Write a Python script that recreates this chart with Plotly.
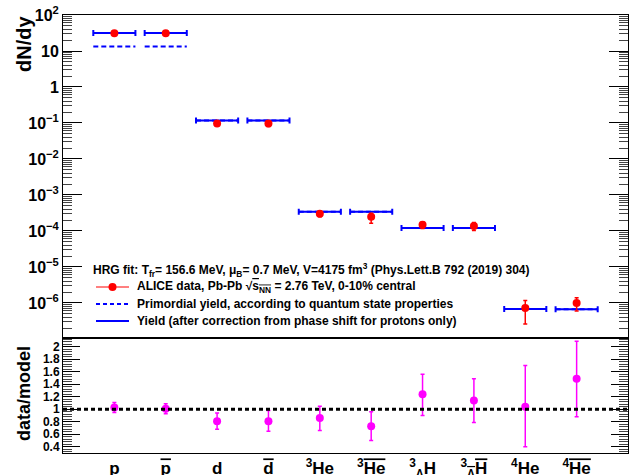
import plotly.graph_objects as go

# ---------------- data ----------------
categories = ["p", "pbar", "d", "dbar", "3He", "3Hebar", "3LH", "3LHbar", "4He", "4Hebar"]
OL = "<span style='text-decoration:overline'>%s</span>"
tick_labels = ["p", OL % "p", "d", OL % "d",
               "<sup>3</sup>He", "<sup>3</sup>" + OL % "He",
               "<sup>3</sup><sub>Λ</sub>H", "<sup>3</sup><sub>" + OL % "Λ" + "</sub>" + OL % "H",
               "<sup>4</sup>He", "<sup>4</sup>" + OL % "He"]
x_pos = [1, 2, 3, 4, 5, 6, 7, 8, 9, 10]

data_yield = [31.0, 31.0, 0.096, 0.096, 3.0e-4, 2.5e-4, 1.48e-4, 1.38e-4, 7.2e-7, 1.0e-6]
data_err_up = [2.0, 2.0, 0.014, 0.016, 0.5e-4, 0.6e-4, 0.3e-4, 0.35e-4, 4.5e-7, 0.4e-6]
data_err_dn = [2.0, 2.0, 0.014, 0.016, 0.5e-4, 0.85e-4, 0.3e-4, 0.35e-4, 4.6e-7, 0.4e-6]

model_yield = [31.4, 31.4, 0.117, 0.117, 3.4e-4, 3.4e-4, 1.2e-4, 1.2e-4, 6.8e-7, 6.7e-7]
model_primordial = [13.3, 13.3, 0.117, 0.117, 3.4e-4, 3.4e-4, 1.2e-4, 1.2e-4, 6.8e-7, 6.7e-7]

ratio = [1.03, 1.01, 0.81, 0.81, 0.86, 0.73, 1.24, 1.14, 1.04, 1.49]
ratio_err_up = [0.08, 0.08, 0.13, 0.17, 0.19, 0.23, 0.32, 0.35, 0.66, 0.60]
ratio_err_dn = [0.08, 0.08, 0.13, 0.16, 0.20, 0.23, 0.34, 0.35, 0.64, 0.61]

top_ticks = [1e-6, 1e-5, 1e-4, 1e-3, 1e-2, 1e-1, 1, 10, 100]
top_ticktext = ["10<sup>−6</sup>", "10<sup>−5</sup>", "10<sup>−4</sup>", "10<sup>−3</sup>",
                "10<sup>−2</sup>", "10<sup>−1</sup>", "1", "10", "10<sup>2</sup>"]
ratio_ticks = [0.4, 0.6, 0.8, 1.0, 1.2, 1.4, 1.6, 1.8, 2.0]
ratio_ticktext = ["0.4", "0.6", "0.8", "1", "1.2", "1.4", "1.6", "1.8", "2"]

# ---------------- style ----------------
W, H = 631, 475
ML, MR, MT, MB = 63, 3, 15, 22
BAR_HALF = 0.41
FONT = "Liberation Sans"
RED, BLUE, MAG = "#ff0000", "#0000ff", "#ff00ff"

def px(xp):
    return (xp - ML) / (W - ML - MR)

def py(yp):
    return (H - MB - yp) / (H - MT - MB)

fig = go.Figure()

# model yield: solid bars with end caps
fig.add_trace(go.Scatter(
    x=x_pos, y=model_yield, mode="markers", marker=dict(size=0.1, color=BLUE),
    error_x=dict(type="constant", value=BAR_HALF, color=BLUE, thickness=2, width=3),
    xaxis="x", yaxis="y", hoverinfo="skip"))

# primordial: dashed bars
xs, ys = [], []
for xc, yv in zip(x_pos, model_primordial):
    xs += [xc - BAR_HALF, xc + BAR_HALF, None]
    ys += [yv, yv, None]
fig.add_trace(go.Scatter(x=xs, y=ys, mode="lines",
                         line=dict(color=BLUE, width=2, dash="5px,3px"),
                         xaxis="x", yaxis="y", hoverinfo="skip"))

# data
fig.add_trace(go.Scatter(
    x=x_pos, y=data_yield, mode="markers",
    marker=dict(size=8, color=RED),
    error_y=dict(type="data", array=data_err_up, arrayminus=data_err_dn,
                 color=RED, thickness=1.5, width=2),
    xaxis="x", yaxis="y"))

# ratio
fig.add_trace(go.Scatter(
    x=x_pos, y=ratio, mode="markers",
    marker=dict(size=8, color=MAG),
    error_y=dict(type="data", array=ratio_err_up, arrayminus=ratio_err_dn,
                 color=MAG, thickness=1.5, width=2),
    xaxis="x2", yaxis="y2"))

split = (H - MB - 337.7) / (H - MT - MB)

axis_common = dict(showline=True, linecolor="black", linewidth=1,
                   showgrid=False, zeroline=False, automargin=False)

fig.update_layout(
    width=W, height=H,
    margin=dict(l=ML, r=MR, t=MT, b=MB, pad=0, autoexpand=False),
    plot_bgcolor="white", paper_bgcolor="white",
    showlegend=False,
    font=dict(family=FONT, color="black"),
    xaxis=dict(domain=[0, 1], range=[0, 11], anchor="y", showticklabels=False,
               ticks="", mirror=True, **axis_common),
    yaxis=dict(domain=[split, 1], type="log", range=[-6.965, 2], anchor="x",
               tickmode="array", tickvals=top_ticks, ticktext=top_ticktext,
               ticks="inside", ticklen=19, tickcolor="black", tickwidth=1,
               tickfont=dict(size=16, family=FONT, weight="bold"),
               minor=dict(dtick="D1", ticks="inside", ticklen=9, tickcolor="#444", tickwidth=1),
               mirror="allticks", **axis_common),
    xaxis2=dict(domain=[0, 1], range=[0, 11], anchor="y2", matches="x",
                tickmode="array", tickvals=x_pos, ticktext=tick_labels,
                ticks="", tickfont=dict(size=17, family=FONT, weight="bold"),
                mirror=True, **axis_common),
    yaxis2=dict(domain=[0, split], range=[0.30, 2.145], anchor="x2",
                tickmode="array", tickvals=ratio_ticks, ticktext=ratio_ticktext,
                ticks="inside", ticklen=17, tickcolor="black", tickwidth=1,
                tickfont=dict(size=12, family=FONT, weight="bold"),
                minor=dict(dtick=0.04, tick0=0, ticks="inside", ticklen=9, tickcolor="#444", tickwidth=1),
                mirror="allticks", **axis_common),
)

# dotted reference line at 1
fig.add_shape(type="line", xref="x2 domain", yref="y2", x0=0, x1=1, y0=1, y1=1,
              line=dict(color="black", width=3, dash="4px,3px"))

# axis titles
fig.add_annotation(text="<b>dN/dy</b>", xref="paper", yref="paper",
                   x=px(24), y=py(44), textangle=-90, showarrow=False,
                   font=dict(size=20, family=FONT), xanchor="center", yanchor="middle")
fig.add_annotation(text="<b>data/model</b>", xref="paper", yref="paper",
                   x=px(24), y=py(394), textangle=-90, showarrow=False,
                   font=dict(size=18, family=FONT), xanchor="center", yanchor="middle")

# legend (manual)
LF = dict(size=12, family=FONT, color="black")
fig.add_annotation(text="<b>HRG fit: T<sub>fr</sub>= 156.6 MeV, μ<sub>B</sub>= 0.7 MeV, V=4175 fm<sup>3</sup> (Phys.Lett.B 792 (2019) 304)</b>",
                   xref="paper", yref="paper", x=px(91), y=py(270), showarrow=False,
                   xanchor="left", yanchor="middle", font=LF)
rows = [
    (287, "<b>ALICE data, Pb-Pb " + "√<span style='text-decoration:overline'>s<sub>NN</sub></span> = 2.76 TeV, 0-10% central</b>"),
    (304, "<b>Primordial yield, according to quantum state properties</b>"),
    (321, "<b>Yield (after correction from phase shift for protons only)</b>"),
]
for yy, t in rows:
    fig.add_annotation(text=t, xref="paper", yref="paper", x=px(135), y=py(yy),
                       showarrow=False, xanchor="left", yanchor="middle", font=LF)
fig.add_shape(type="line", xref="paper", yref="paper", x0=px(96), x1=px(129),
              y0=py(287), y1=py(287), line=dict(color=RED, width=1))
fig.add_shape(type="circle", xref="paper", yref="paper", x0=px(108.5), x1=px(116.5),
              y0=py(283), y1=py(291), fillcolor=RED, line=dict(color=RED, width=0))
fig.add_shape(type="line", xref="paper", yref="paper", x0=px(96), x1=px(129),
              y0=py(304), y1=py(304), line=dict(color=BLUE, width=2, dash="4px,3px"))
fig.add_shape(type="line", xref="paper", yref="paper", x0=px(96), x1=px(129),
              y0=py(321), y1=py(321), line=dict(color=BLUE, width=2))

fig.write_html("out.html", config={"displayModeBar": False},
               post_script="document.body.style.margin='0px';")
